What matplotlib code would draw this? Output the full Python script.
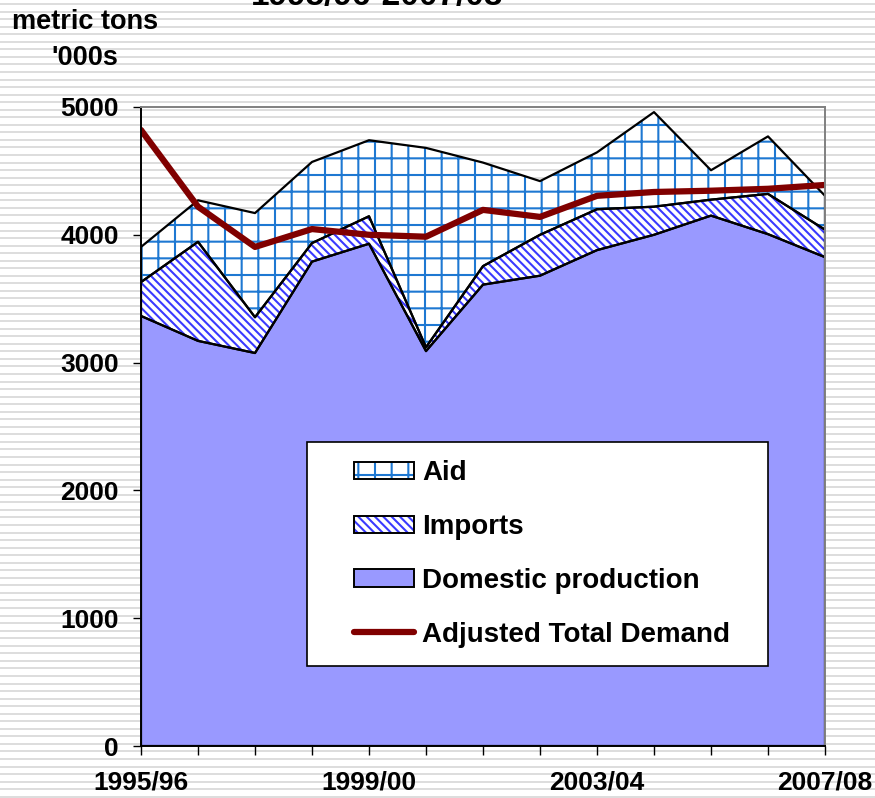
import matplotlib.pyplot as plt
import numpy as np
from matplotlib.patches import Patch, Rectangle
from matplotlib.lines import Line2D
from matplotlib.legend_handler import HandlerBase

plt.rcParams['font.family'] = ['Liberation Sans', 'DejaVu Sans']
plt.rcParams['font.weight'] = 'bold'

#%% data ('000 metric tons)
seasons = ['1995/96', '1996/97', '1997/98', '1998/99', '1999/00', '2000/01', '2001/02',
           '2002/03', '2003/04', '2004/05', '2005/06', '2006/07', '2007/08']
domestic = [3365, 3170, 3075, 3790, 3930, 3090, 3610, 3680, 3880, 4000, 4150, 4005, 3825]
imports = [265, 775, 280, 145, 215, 30, 145, 320, 320, 220, 125, 315, 215]
aid = [275, 325, 815, 635, 595, 1560, 810, 420, 445, 740, 230, 450, 265]
demand = [4820, 4220, 3905, 4045, 4000, 3985, 4195, 4140, 4305, 4335, 4345, 4360, 4390]
shown_labels = ['1995/96', '1999/00', '2003/04', '2007/08']

x = np.arange(len(seasons))
dom = np.array(domestic)
imp_top = dom + np.array(imports)
aid_top = imp_top + np.array(aid)

AID_BLUE = '#1e78d2'
IMP_BLUE = '#3a3aff'
DOM_FILL = '#9999ff'
DEM_RED = '#800000'
IMP_HATCH = '\\\\\\\\'


class ShiftedHandler(HandlerBase):
    # draws the legend key a bit to the right of the frame, like the original
    def __init__(self, shift):
        super().__init__()
        self.shift = shift

    def create_artists(self, legend, orig_handle, xdescent, ydescent, width, height,
                       fontsize, trans):
        x0 = -xdescent + self.shift
        w = width - self.shift
        out = []
        for h in orig_handle:
            if isinstance(h, Patch):
                r = Rectangle((x0, -ydescent), w, height, facecolor=h.get_facecolor(),
                              edgecolor=h.get_edgecolor(), hatch=h.get_hatch(),
                              lw=h.get_linewidth(), transform=trans)
                out.append(r)
            else:
                ln = Line2D([x0, x0 + w], [height / 2 - ydescent] * 2, color=h.get_color(),
                            lw=h.get_linewidth(), solid_capstyle='round', transform=trans)
                out.append(ln)
        return out


#%% figure
fig = plt.figure(figsize=(8.75, 7.98), dpi=100)

# striped background
bg = fig.add_axes([0, 0, 1, 1], zorder=-10)
bg.set_xlim(0, 875)
bg.set_ylim(798, 0)
bg.hlines(np.arange(4, 798, 7.55), 0, 875, color='#dddddd', lw=1.4)
bg.axis('off')

ax = fig.add_axes([141/875, 52/798, 684/875, 639/798])
ax.set_facecolor('none')

plt.rcParams['hatch.linewidth'] = 1.5
ax.fill_between(x, 0, dom, facecolor=DOM_FILL, edgecolor='none', lw=0)
ax.fill_between(x, dom, imp_top, facecolor='white', edgecolor=IMP_BLUE, hatch=IMP_HATCH, lw=0)
ax.fill_between(x, imp_top, aid_top, facecolor='white', edgecolor=AID_BLUE, hatch='+', lw=0)
for lo, hi in [(0, dom), (dom, imp_top), (imp_top, aid_top)]:
    ax.fill_between(x, lo, hi, facecolor='none', edgecolor='black', lw=1.6)
ax.plot(x, demand, color=DEM_RED, lw=4.5, solid_capstyle='round')

ax.set_xlim(0, 12)
ax.set_ylim(0, 5000)
ax.set_yticks(range(0, 5001, 1000))
ax.set_xticks(x)
ax.set_xticklabels([s if s in shown_labels else '' for s in seasons])
ax.tick_params(axis='x', length=6.5, width=1, pad=11, labelsize=19)
ax.tick_params(axis='y', length=6, width=1, pad=10, labelsize=19)
for s in ['left', 'bottom']:
    ax.spines[s].set_color('black')
    ax.spines[s].set_linewidth(1.4)
for s in ['top', 'right']:
    ax.spines[s].set_color('#808080')
    ax.spines[s].set_linewidth(1.4)

# legend
h_aid = (Patch(facecolor='white', edgecolor=AID_BLUE, hatch='+', lw=0),
         Patch(facecolor='none', edgecolor='black', lw=1.4))
h_imp = (Patch(facecolor='white', edgecolor=IMP_BLUE, hatch=IMP_HATCH, lw=0),
         Patch(facecolor='none', edgecolor='black', lw=1.4))
h_dom = (Patch(facecolor=DOM_FILL, edgecolor='black', lw=1.4),)
h_dem = (Line2D([], [], color=DEM_RED, lw=4.5),)
leg_fs = 20
leg = ax.legend([h_aid, h_imp, h_dom, h_dem],
                ['Aid', 'Imports', 'Domestic production', 'Adjusted Total Demand'],
                handler_map={tuple: ShiftedHandler(21)},
                loc='upper left', bbox_to_anchor=(0.2427, 0.1283, 0.674, 0.347),
                mode='expand', fontsize=leg_fs, handlelength=64 / leg_fs, handleheight=0.6,
                handletextpad=0.3, labelspacing=1.0, borderpad=0.65,
                fancybox=False, framealpha=1, borderaxespad=0)
leg.get_frame().set_edgecolor('black')
leg.get_frame().set_linewidth(1.2)

# titles (the main title is cut off by the top edge in the original)
fig.text(377/875, 1 - 5/798, '1995/96-2007/08', ha='center', va='baseline', fontsize=24)
fig.text(85/875, 1 - 22/798, 'metric tons', ha='center', va='center', fontsize=19.5)
fig.text(85/875, 1 - 58/798, "'000s", ha='center', va='center', fontsize=19.5)

fig.savefig('out.png', dpi=100)
